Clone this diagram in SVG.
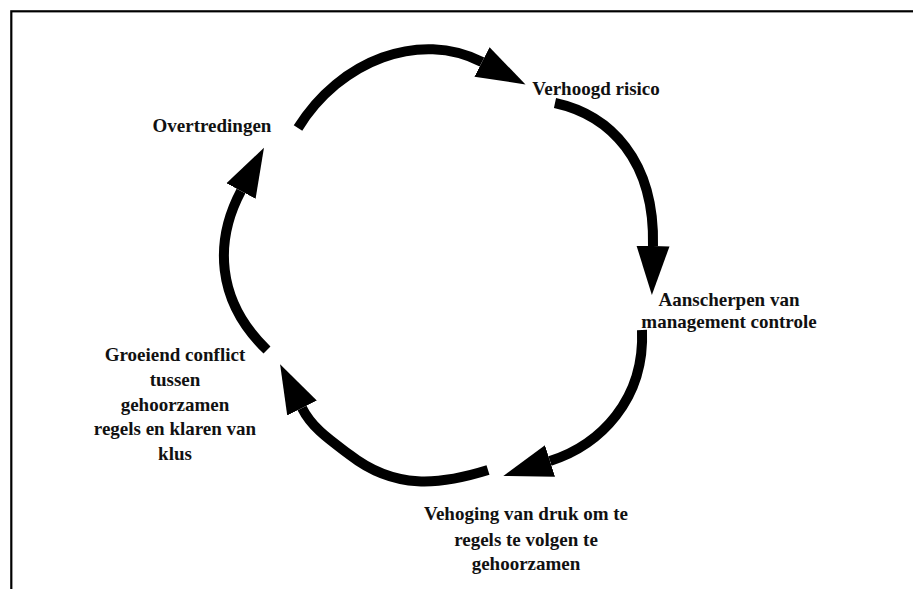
<svg xmlns="http://www.w3.org/2000/svg" width="913" height="589" viewBox="0 0 913 589">
  <style>
    .lbl { font-family: "Liberation Serif", "Times New Roman", serif; font-size: 19px; font-weight: bold; fill: #111; text-anchor: middle; }
    .flow { fill: none; stroke: #000; stroke-width: 10; stroke-linecap: butt; marker-end: url(#head); }
  </style>
  <defs>
    <marker id="head" markerUnits="userSpaceOnUse" markerWidth="50" markerHeight="36" viewBox="0 -17 50 34" refX="0" refY="0" orient="auto">
      <path d="M0,-16.5 L49,0 L0,16.5 Z" fill="#000"/>
    </marker>
  </defs>

  <!-- frame -->
  <rect x="11.3" y="11.3" width="1000" height="1000" fill="none" stroke="#000" stroke-width="2.2"/>

  <!-- cycle connectors -->
  <g id="connectors">
    <path class="flow" d="M298,128 C340,60 420,30 482,62"/>
    <path class="flow" d="M555,103 C610,115 655,160 653,246"/>
    <path class="flow" d="M642,330 C645,400 600,445 550,461"/>
    <path class="flow" d="M488,470 C440,485 395,490 350,455 C330,440 312,428 302,408"/>
    <path class="flow" d="M267,350 C215,300 215,240 241,191"/>
  </g>

  <g id="node-overtredingen">
    <text class="lbl" x="212" y="132">Overtredingen</text>
  </g>
  <g id="node-risico">
    <text class="lbl" x="596" y="95">Verhoogd risico</text>
  </g>
  <g id="node-controle">
    <text class="lbl" x="729" y="306">Aanscherpen van</text>
    <text class="lbl" x="729" y="328">management controle</text>
  </g>
  <g id="node-druk">
    <text class="lbl" x="526" y="520">Vehoging van druk om te</text>
    <text class="lbl" x="526" y="546">regels te volgen te</text>
    <text class="lbl" x="526" y="570">gehoorzamen</text>
  </g>
  <g id="node-conflict">
    <text class="lbl" x="175" y="361">Groeiend conflict</text>
    <text class="lbl" x="175" y="386">tussen</text>
    <text class="lbl" x="175" y="411">gehoorzamen</text>
    <text class="lbl" x="175" y="435">regels en klaren van</text>
    <text class="lbl" x="175" y="460">klus</text>
  </g>
</svg>
